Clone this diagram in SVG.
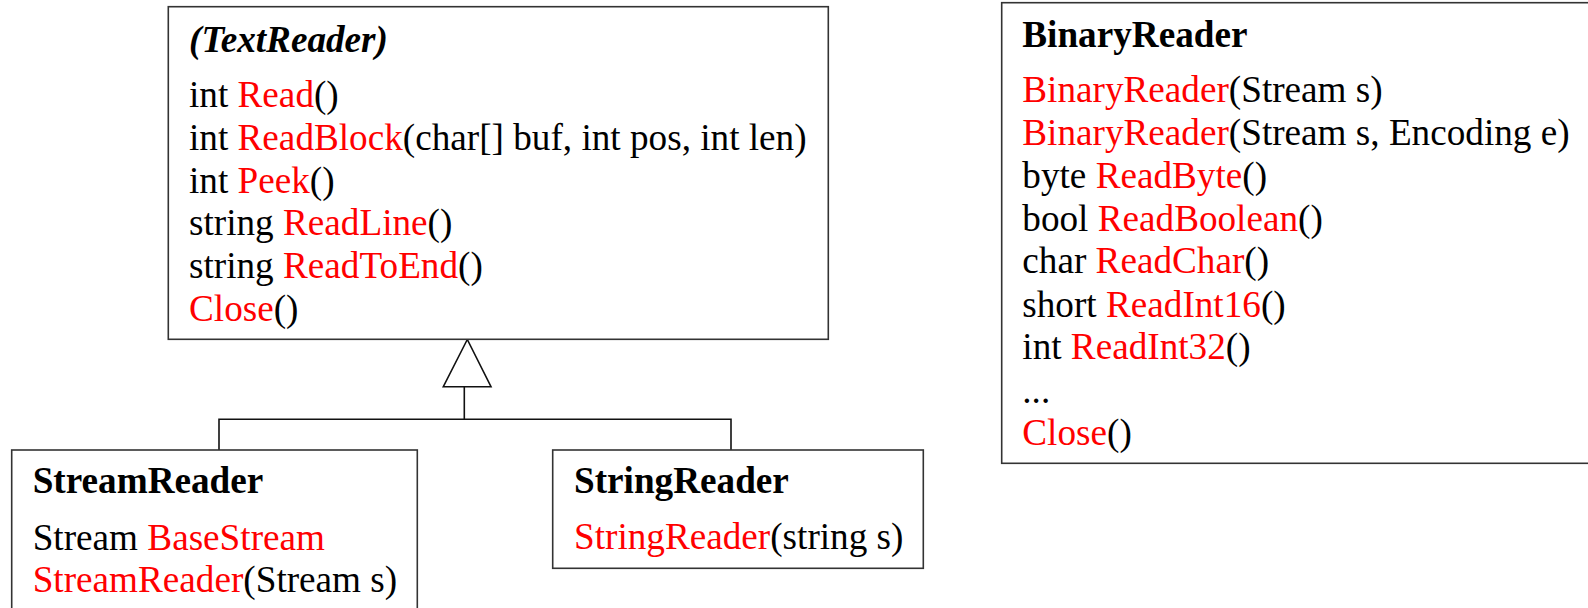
<svg xmlns="http://www.w3.org/2000/svg" width="1588" height="608" viewBox="0 0 1588 608">
<style>
.box{fill:#fff;stroke:#333;stroke-width:1.6}
.ln{fill:none;stroke:#111;stroke-width:1.6}
text{font-family:"Liberation Serif","Times New Roman",serif;font-size:37.2px;fill:#000}
.t{font-weight:bold}
.r{fill:#f00}
</style>
<rect width="1588" height="608" fill="#fff"/>
<g id="connectors">
<polyline class="ln" points="219,450 219,419.3 731,419.3 731,450"/>
<line class="ln" x1="464.3" y1="386.7" x2="464.3" y2="419.3"/>
<polygon class="ln" points="467.3,339.5 443.3,386.7 491,386.7" fill="#fff"/>
</g>
<g id="TextReader">
<rect class="box" x="168.3" y="6.7" width="660" height="332.6"/>
<text x="189" y="51.7" class="t" font-style="italic">(TextReader)</text>
<text x="189" y="107.3">int <tspan class="r">Read</tspan>()</text>
<text x="189" y="150">int <tspan class="r">ReadBlock</tspan>(char[] buf, int pos, int len)</text>
<text x="189" y="192.7">int <tspan class="r">Peek</tspan>()</text>
<text x="189" y="235">string <tspan class="r">ReadLine</tspan>()</text>
<text x="189" y="278">string <tspan class="r">ReadToEnd</tspan>()</text>
<text x="189" y="320.5"><tspan class="r">Close</tspan>()</text>
</g>
<g id="StreamReader">
<rect class="box" x="11.7" y="450" width="405.6" height="170"/>
<text x="32.7" y="493.3" class="t">StreamReader</text>
<text x="32.7" y="550">Stream <tspan class="r">BaseStream</tspan></text>
<text x="32.7" y="591.7"><tspan class="r">StreamReader</tspan>(Stream s)</text>
</g>
<g id="StringReader">
<rect class="box" x="552.7" y="450" width="370.6" height="118.3"/>
<text x="574" y="493.3" class="t">StringReader</text>
<text x="574" y="549.3"><tspan class="r">StringReader</tspan>(string s)</text>
</g>
<g id="BinaryReader">
<rect class="box" x="1001.7" y="2.7" width="600" height="460.6"/>
<text x="1022.3" y="46.7" class="t">BinaryReader</text>
<text x="1022.3" y="101.7"><tspan class="r">BinaryReader</tspan>(Stream s)</text>
<text x="1022.3" y="145"><tspan class="r">BinaryReader</tspan>(Stream s, Encoding e)</text>
<text x="1022.3" y="188.3">byte <tspan class="r">ReadByte</tspan>()</text>
<text x="1022.3" y="231">bool <tspan class="r">ReadBoolean</tspan>()</text>
<text x="1022.3" y="273.3">char <tspan class="r">ReadChar</tspan>()</text>
<text x="1022.3" y="317.3">short <tspan class="r">ReadInt16</tspan>()</text>
<text x="1022.3" y="359.3">int <tspan class="r">ReadInt32</tspan>()</text>
<text x="1022.3" y="403.3">...</text>
<text x="1022.3" y="445"><tspan class="r">Close</tspan>()</text>
</g>
</svg>
